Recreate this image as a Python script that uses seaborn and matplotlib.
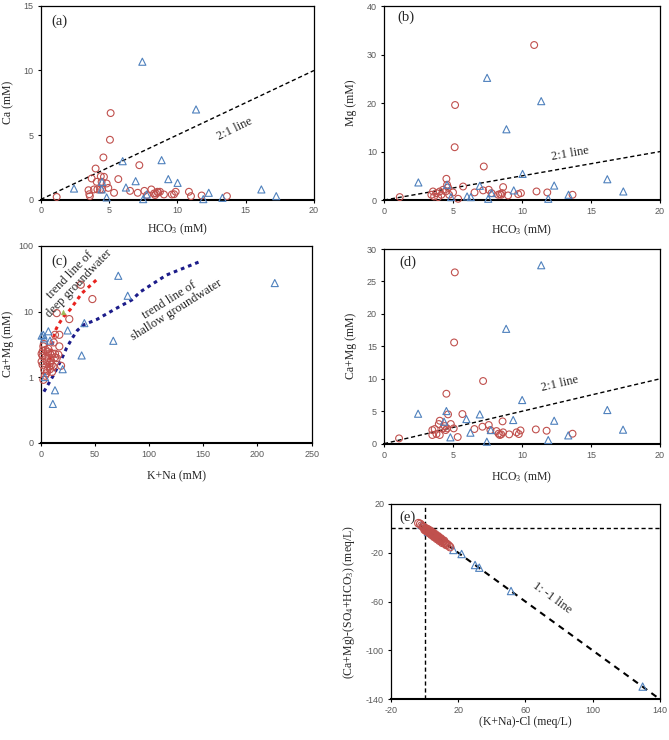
"""Five-panel hydrochemistry scatter figure (Ca, Mg, Ca+Mg vs HCO3 / K+Na, ion exchange)."""

import matplotlib
matplotlib.use("Agg")
import matplotlib.pyplot as plt  # noqa: E402
import seaborn as sns  # noqa: E402

RED = "#c0504d"
BLUE = "#4f81bd"
GREEN = "#9bbb59"
TICK_GREY = "#595959"

# ---- panel (a): Ca vs HCO3 ----
a_deep_hco3 = [1.17, 3.5, 3.56, 3.6, 3.73, 3.9, 4.02, 4.1, 4.15, 4.34, 4.4, 4.46, 4.59, 4.63,
               4.5, 4.83, 4.95, 5.12, 5.07, 5.37, 5.68, 6.54, 7.22, 7.1, 7.59, 7.78, 8.1, 8.3,
               8.44, 8.54, 8.6, 8.73, 8.37, 9.02, 9.6, 9.76, 9.88, 10.85, 11.0, 11.78, 13.63]
a_deep_ca = [0.2, 0.72, 0.41, 0.26, 1.63, 0.78, 2.4, 1.37, 0.78, 0.78, 1.8, 1.37, 3.26, 1.76,
             0.78, 1.24, 0.9, 6.7, 4.63, 0.52, 1.58, 0.67, 2.66, 0.52, 0.67, 0.34, 0.78, 0.47,
             0.47, 0.6, 0.54, 0.6, 0.34, 0.39, 0.39, 0.41, 0.6, 0.6, 0.26, 0.31, 0.26]
a_shallow_hco3 = [2.44, 4.49, 4.46, 4.83, 6.0, 6.24, 6.95, 7.44, 7.5, 7.76, 8.85, 9.34, 10.02,
                  11.37, 11.9, 12.3, 13.3, 16.15, 17.24]
a_shallow_ca = [0.85, 1.37, 0.78, 0.16, 2.97, 0.93, 1.42, 10.68, 0.03, 0.39, 3.05, 1.58, 1.29,
                6.98, 0.03, 0.52, 0.13, 0.78, 0.26]

# ---- panel (b): Mg vs HCO3 ----
b_deep_hco3 = [1.14, 3.43, 3.55, 3.63, 3.8, 3.92, 4.04, 4.16, 4.28, 4.52, 4.57, 4.47, 4.64, 4.72,
               5.0, 5.12, 5.15, 5.37, 5.73, 6.56, 7.18, 7.23, 7.59, 7.79, 8.27, 8.4, 8.5, 8.63,
               8.56, 8.99, 9.72, 9.92, 10.88, 11.05, 11.83, 13.66]
b_deep_mg = [0.62, 1.1, 1.78, 0.75, 1.44, 0.62, 1.78, 1.1, 2.13, 4.39, 3.16, 1.78, 2.6, 1.1,
             1.58, 10.9, 19.6, 0.27, 2.8, 1.58, 2.0, 6.93, 2.13, 1.44, 1.1, 1.23, 1.1, 2.68,
             1.44, 0.96, 1.23, 1.44, 31.97, 1.78, 1.58, 1.1]
b_shallow_hco3 = [2.49, 4.57, 4.86, 6.02, 6.29, 6.94, 7.47, 7.55, 7.79, 8.87, 9.4, 10.04, 11.39,
                  11.9, 12.33, 13.37, 16.18, 17.34]
b_shallow_mg = [3.64, 3.16, 0.62, 0.75, 0.62, 2.95, 25.2, 0.27, 1.44, 14.6, 2.0, 5.4, 20.4,
                0.27, 3.0, 1.1, 4.3, 1.78]

# ---- panel (c): Ca+Mg (log) vs K+Na ----
c_deep_kna = [37, 47.7, 14.8, 26.4, 13.2, 17.2, 12, 17.2, 2.5, 4.6, 7, 8.6, 11, 0.9, 1.8, 4.9,
              7.1, 13.2, 14.8, 16.3, 13.2, 5.5, 8.6, 10.1, 8, 11.7, 8.6, 3.4, 5.5, 4.0, 2.5,
              18.8, 0.9, 1.8, 6.5, 9.5, 3.0, 6.0, 10.5, 2.0]
c_deep_camg = [25.6, 15.5, 9.46, 7.67, 4.42, 4.42, 3.38, 2.94, 2.94, 2.6, 2.7, 2.3, 2.27, 2.27,
               2.1, 2.07, 1.95, 2.27, 1.95, 2.2, 2.0, 1.73, 1.63, 1.54, 1.45, 1.45, 1.32, 1.29,
               1.15, 1.05, 0.91, 1.49, 1.73, 1.54, 2.4, 1.8, 3.2, 1.25, 1.2, 2.5]
c_shallow_kna = [71.6, 80.3, 216, 40.3, 24.9, 67, 37.8, 20.3, 13.2, 11.2, 7.1, 0.9, 2.5, 3.4,
                 8.6, 4.0]
c_shallow_camg = [35.1, 17.4, 27.2, 6.66, 5.15, 3.58, 2.14, 1.32, 0.63, 0.39, 5.0, 4.3, 4.4,
                  3.9, 3.6, 1.0]
c_other_kna = [20.9]
c_other_camg = [10.0]
deep_trend_kna = [8, 9, 11.7, 13.2, 16.3, 21, 27, 38, 52]
deep_trend_camg = [1.4, 2.3, 3.7, 5.0, 6.3, 8.3, 10.6, 19, 31]
shallow_trend_kna = [3, 12, 19, 24, 29, 34, 40, 52, 69, 84, 92, 116, 146]
shallow_trend_camg = [0.6, 1.08, 1.84, 2.8, 3.9, 5.2, 6.3, 7.6, 11, 15, 20, 36, 57]

# ---- panel (d): Ca+Mg vs HCO3 ----
d_deep_hco3 = [1.09, 3.5, 3.5, 3.67, 3.8, 3.97, 4.04, 4.04, 4.28, 4.4, 4.47, 4.52, 4.64, 4.57,
               4.84, 5.05, 5.13, 5.08, 5.34, 5.68, 6.55, 7.13, 7.18, 7.59, 7.71, 8.15, 8.3,
               8.39, 8.49, 8.59, 8.63, 9.07, 9.6, 9.77, 9.89, 11.0, 11.78, 13.66]
d_deep_camg = [0.82, 2.1, 1.34, 2.26, 1.49, 3.03, 3.54, 1.34, 2.36, 2.72, 2.1, 7.7, 4.52, 2.36,
               3.03, 2.36, 26.4, 15.6, 1.03, 4.57, 2.26, 2.62, 9.66, 2.88, 2.1, 1.95, 1.54,
               1.34, 1.44, 3.44, 1.75, 1.44, 1.75, 1.49, 2.05, 2.2, 2.0, 1.54]
d_shallow_hco3 = [2.47, 4.52, 4.35, 4.81, 5.97, 6.26, 6.94, 7.45, 7.74, 8.85, 9.36, 10.01, 11.39,
                  11.9, 12.33, 13.35, 16.18, 17.32]
d_shallow_camg = [4.62, 5.03, 3.39, 0.98, 3.8, 1.7, 4.52, 0.31, 2.1, 17.7, 3.65, 6.73, 27.5,
                  0.56, 3.54, 1.28, 5.19, 2.16]

# 2:1 reference line used in (a), (b), (d)
ratio_hco3 = [0, 20]
ratio_cation = [0, 10]

# ---- panel (e): (Ca+Mg)-(SO4+HCO3) vs (K+Na)-Cl ----
e_deep_x = [-3.7, -2.6, -1.8, -1.0, -0.4, 0.2, 0.6, 1.0, 1.4, 1.8, 2.2, 2.6, 3.0, 3.4, 3.8,
            4.2, 4.6, 5.0, 5.4, 5.8, 6.2, 6.6, 7.0, 7.4, 7.8, 8.2, 8.6, 9.0, 9.4, 9.8, 10.2,
            10.7, 11.2, 11.8, 12.5, 13.3, 14.2, 15.1,
            0.0, 0.9, 1.7, 2.5, 3.2, 4.0, 4.8, 5.6, 6.4, 7.2, 8.0, 8.8, 9.6, 10.5, 11.5, 12.8]
e_deep_y = [4.2, 3.6, 2.3, 1.4, 0.9, -0.6, -0.1, -1.5, -0.9, -2.2, -1.6, -3.0, -2.6, -3.8, -3.3,
            -4.6, -4.0, -5.4, -4.9, -6.3, -5.7, -7.0, -6.5, -7.8, -7.2, -8.6, -8.0, -9.4, -8.8,
            -10.2, -9.7, -11.0, -10.6, -12.1, -12.3, -13.0, -14.0, -15.3,
            -1.2, -2.1, -0.7, -3.5, -1.9, -5.2, -3.4, -6.9, -5.0, -8.5, -6.6, -10.1, -8.3,
            -11.8, -10.2, -13.5]
e_shallow_x = [-1.8, 2.0, 17.1, 22.0, 30.0, 32.5, 51.4, 129.7]
e_shallow_y = [2.8, -3.0, -17.7, -21.0, -30.0, -32.2, -51.3, -129.6]
e_line_x = [-3, 140]
e_line_y = [3, -140]

sns.set_style("ticks")
plt.rcParams["font.family"] = ["Liberation Serif", "DejaVu Serif"]
plt.rcParams["mathtext.default"] = "regular"

TEXT_SIZE = 8.5


def points(ax, x, y, marker, color, size):
    sns.scatterplot(x=x, y=y, ax=ax, marker=marker, s=size, facecolors="none",
                    edgecolor=color, linewidth=0.8, zorder=3, clip_on=False)


def dashed(ax, x, y, color="k", lw=1.0, dash=(3, 2)):
    sns.lineplot(x=x, y=y, ax=ax, color=color, linewidth=lw,
                 linestyle=(0, dash), sort=False, estimator=None, zorder=2)


def frame(ax, xticks, yticks, xlab, ylab, xlab_y, ylab_x, letter, letter_xy,
          ytick_labels=None):
    ax.set_xticks(xticks, labels=[str(t) for t in xticks], fontsize=6.5,
                  color=TICK_GREY, fontfamily="Liberation Sans")
    labels = ytick_labels if ytick_labels else [str(t) for t in yticks]
    ax.set_yticks(yticks, labels=labels, fontsize=6.5, color=TICK_GREY,
                  fontfamily="Liberation Sans")
    ax.minorticks_off()
    ax.tick_params(length=2.5, width=0.8, pad=2.5, color="k")
    ax.set_xlabel(xlab, fontsize=TEXT_SIZE)
    ax.set_ylabel(ylab, fontsize=TEXT_SIZE)
    ax.xaxis.set_label_coords(0.5, xlab_y)
    ax.yaxis.set_label_coords(ylab_x, 0.5)
    for side in ["top", "right", "left"]:
        ax.spines[side].set_linewidth(0.9)
        ax.spines[side].set_color("k")
    ax.spines["bottom"].set_linewidth(1.5)
    ax.spines["bottom"].set_color("k")
    ax.text(letter_xy[0], letter_xy[1], letter, transform=ax.transAxes,
            fontsize=10.5, va="center", ha="left")


fig = plt.figure(figsize=(6.69, 7.40), dpi=100)

# (a)
ax = fig.add_axes([0.0608, 0.7304, 0.4085, 0.2615])
dashed(ax, ratio_hco3, ratio_cation)
points(ax, a_deep_hco3, a_deep_ca, "o", RED, 24)
points(ax, a_shallow_hco3, a_shallow_ca, "^", BLUE, 26)
ax.set_xlim(0, 20)
ax.set_ylim(0, 15)
ax.text(14.2, 5.5, "2:1 line", rotation=26, fontsize=9, ha="center", va="center")
frame(ax, [0, 5, 10, 15, 20], [0, 5, 10, 15], "HCO$_3$ (mM)", "Ca (mM)",
      -0.116, -0.098, "(a)", (0.04, 0.92))

# (b)
ax = fig.add_axes([0.574, 0.7296, 0.4126, 0.2622])
dashed(ax, ratio_hco3, ratio_cation)
points(ax, b_deep_hco3, b_deep_mg, "o", RED, 24)
points(ax, b_shallow_hco3, b_shallow_mg, "^", BLUE, 26)
ax.set_xlim(0, 20)
ax.set_ylim(0, 40)
ax.text(13.5, 9.6, "2:1 line", rotation=10, fontsize=9, ha="center", va="center")
frame(ax, [0, 5, 10, 15, 20], [0, 10, 20, 30, 40], "HCO$_3$ (mM)", "Mg (mM)",
      -0.116, -0.098, "(b)", (0.05, 0.94))

# (c)
ax = fig.add_axes([0.0608, 0.4018, 0.405, 0.2658])
ax.set_yscale("log")
dashed(ax, deep_trend_kna, deep_trend_camg, color="#e8231f", lw=2.2, dash=(1.2, 1.3))
dashed(ax, shallow_trend_kna, shallow_trend_camg, color="#1c1c8a", lw=2.2, dash=(1.2, 1.3))
points(ax, c_deep_kna, c_deep_camg, "o", RED, 26)
points(ax, c_shallow_kna, c_shallow_camg, "^", BLUE, 26)
sns.scatterplot(x=c_other_kna, y=c_other_camg, ax=ax, marker="^", s=12, color=GREEN,
                edgecolor=GREEN, zorder=3)
ax.set_xlim(0, 250)
ax.set_ylim(0.1, 100)
ax.text(31, 31, "trend line of\ndeep groundwater", rotation=46, fontsize=9,
        ha="center", va="center", linespacing=1.0)
ax.text(122, 12.5, "trend line of\nshallow groundwater", rotation=32, fontsize=9,
        ha="center", va="center", linespacing=1.0)
frame(ax, [0, 50, 100, 150, 200, 250], [0.1, 1, 10, 100], "K+Na (mM)", "Ca+Mg (mM)",
      -0.139, -0.099, "(c)", (0.04, 0.92), ytick_labels=["0", "1", "10", "100"])

# (d)
ax = fig.add_axes([0.574, 0.4004, 0.4126, 0.2631])
dashed(ax, ratio_hco3, ratio_cation)
points(ax, d_deep_hco3, d_deep_camg, "o", RED, 24)
points(ax, d_shallow_hco3, d_shallow_camg, "^", BLUE, 26)
ax.set_xlim(0, 20)
ax.set_ylim(0, 30)
ax.text(12.7, 9.3, "2:1 line", rotation=13, fontsize=9, ha="center", va="center")
frame(ax, [0, 5, 10, 15, 20], [0, 5, 10, 15, 20, 25, 30], "HCO$_3$ (mM)", "Ca+Mg (mM)",
      -0.135, -0.098, "(d)", (0.055, 0.933))

# (e)
ax = fig.add_axes([0.5845, 0.055, 0.402, 0.264])
ax.axvline(0, color="k", linewidth=1.0, linestyle=(0, (3, 2)), zorder=1)
ax.axhline(0, color="k", linewidth=1.0, linestyle=(0, (3, 2)), zorder=1)
dashed(ax, e_line_x, e_line_y, lw=1.5, dash=(3, 2.5))
points(ax, e_shallow_x, e_shallow_y, "^", BLUE, 28)
points(ax, e_deep_x, e_deep_y, "o", RED, 30)
ax.set_xlim(-20, 140)
ax.set_ylim(-140, 20)
ax.text(76, -57, "1: -1 line", rotation=-36, fontsize=9, ha="center", va="center")
frame(ax, [-20, 20, 60, 100, 140], [20, -20, -60, -100, -140], "(K+Na)-Cl (meq/L)",
      "(Ca+Mg)-(SO$_4$+HCO$_3$) (meq/L)", -0.086, -0.126, "(e)", (0.03, 0.93))

fig.savefig("out.png", dpi=100)
plt.close(fig)
